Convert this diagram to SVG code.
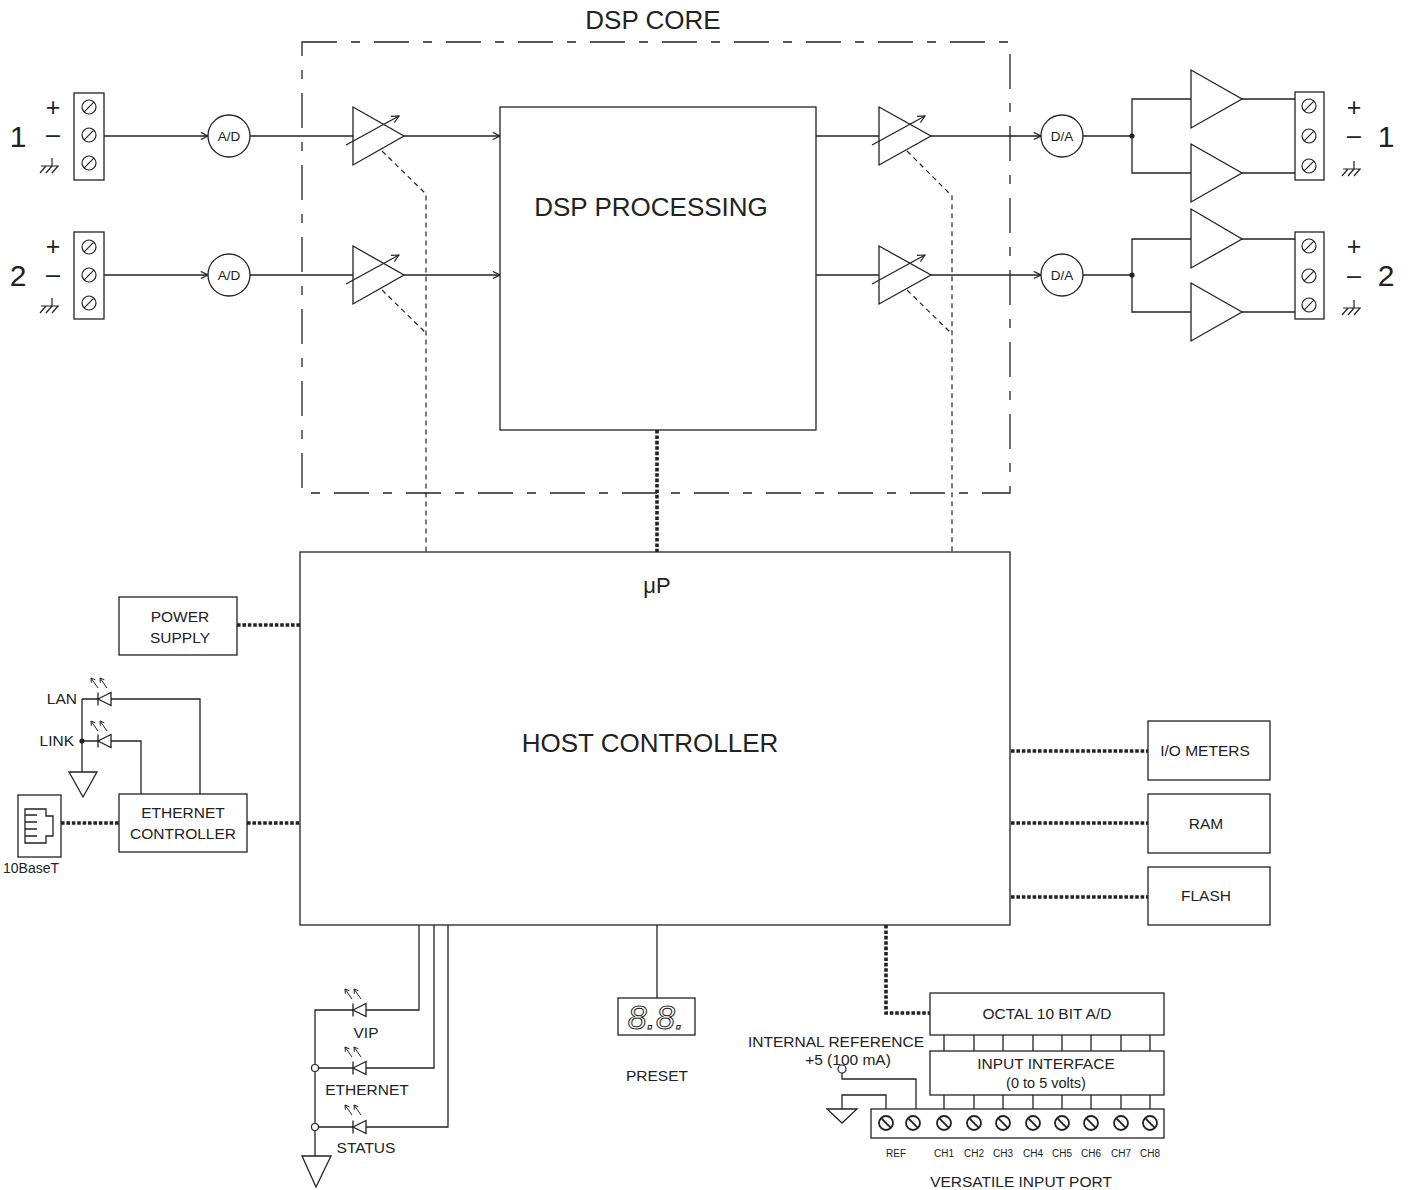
<svg xmlns="http://www.w3.org/2000/svg" width="1416" height="1190" viewBox="0 0 1416 1190">
<defs>
<style>
.ln{stroke:#222;stroke-width:1.3;fill:none}
.bx{fill:#fff;stroke:#222;stroke-width:1.3}
.dsh{stroke:#222;stroke-width:1.2;fill:none;stroke-dasharray:5,4}
.dot{stroke:#222;stroke-width:3.6;fill:none;stroke-dasharray:3.6,1.8}
.core{stroke:#222;stroke-width:1.3;fill:none;stroke-dasharray:35,14,9,14}
text{font-family:"Liberation Sans",Arial,Helvetica,sans-serif;fill:#222;text-anchor:middle}
.big{font-size:26px}
.lb{font-size:15.5px}
.sm{font-size:10px}
.ad{font-size:13.5px}
.num{font-size:30px}
.pm{font-size:25px}
</style>
<marker id="ar" viewBox="0 0 10 10" refX="9" refY="5" markerWidth="9" markerHeight="9" markerUnits="userSpaceOnUse" orient="auto">
<path d="M1,1 L9,5 L1,9" fill="none" stroke="#222" stroke-width="1.3"/>
</marker>
<g id="scr"><circle r="7" fill="none" stroke="#222" stroke-width="1.2"/><line x1="-4.8" y1="4.8" x2="4.8" y2="-4.8" stroke="#222" stroke-width="1.2"/></g>
<g id="scr2"><circle r="7" fill="none" stroke="#222" stroke-width="1.8"/><line x1="-4.8" y1="-4.8" x2="4.8" y2="4.8" stroke="#222" stroke-width="1.8"/></g>
<path id="gnd" d="M-9,0 H9 M2,-8 V0 M-4,0 L-10,7 M2,0 L-4,7 M8,0 L2,7" fill="none" stroke="#222" stroke-width="1.2"/>
<g id="led" fill="none" stroke="#222" stroke-width="1.3"><path d="M0,-6.5 V6.5 M0,0 L13,-6.5 L13,6.5 Z" fill="#fff"/></g>
<g id="ledar" fill="none" stroke="#222" stroke-width="1"><path d="M0,0 L-7,-10 M-7,-10 L-6.6,-5.2 M-7,-10 L-2.6,-8.2"/><path d="M9,0 L2,-10 M2,-10 L2.4,-5.2 M2,-10 L6.4,-8.2"/></g>
</defs>
<rect width="1416" height="1190" fill="#fff"/>

<g id="dsp-core"><rect class="core" x="302" y="42" width="708" height="451"/><text class="big" x="653" y="29">DSP CORE</text></g>

<g id="connectors">
<line class="ln" x1="104" y1="136" x2="208" y2="136" marker-end="url(#ar)"/>
<line class="ln" x1="250" y1="136" x2="353" y2="136"/>
<line class="ln" x1="404" y1="136" x2="500" y2="136" marker-end="url(#ar)"/>
<line class="ln" x1="104" y1="275" x2="208" y2="275" marker-end="url(#ar)"/>
<line class="ln" x1="250" y1="275" x2="353" y2="275"/>
<line class="ln" x1="404" y1="275" x2="500" y2="275" marker-end="url(#ar)"/>
<path class="dsh" d="M382,151 L426,194 L426,552"/>
<path class="dsh" d="M382,290 L426,333"/>
<line class="ln" x1="816" y1="136" x2="879" y2="136"/>
<line class="ln" x1="931" y1="136" x2="1041" y2="136" marker-end="url(#ar)"/>
<line class="ln" x1="816" y1="275" x2="879" y2="275"/>
<line class="ln" x1="931" y1="275" x2="1041" y2="275" marker-end="url(#ar)"/>
<path class="dsh" d="M907,151 L952,196 L952,552"/>
<path class="dsh" d="M907,290 L952,334"/>
<path class="ln" d="M1083,136 H1132 M1191,99 H1132 V173 H1191 M1242,99 H1295 M1242,173 H1295"/>
<circle cx="1132" cy="136" r="2.6" fill="#222"/>
<path class="ln" d="M1083,275 H1132 M1191,239 H1132 V312 H1191 M1242,239 H1295 M1242,312 H1295"/>
<circle cx="1132" cy="275" r="2.6" fill="#222"/>
<line class="dot" x1="657" y1="430" x2="657" y2="552"/>
<line class="dot" x1="237" y1="625" x2="300" y2="625"/>
<line class="dot" x1="247" y1="823" x2="300" y2="823"/>
<line class="dot" x1="61" y1="823" x2="119" y2="823"/>
<line class="dot" x1="1011" y1="751" x2="1148" y2="751"/>
<line class="dot" x1="1011" y1="823" x2="1148" y2="823"/>
<line class="dot" x1="1011" y1="897" x2="1148" y2="897"/>
<path class="dot" d="M886,925 V1013 H930"/>
<path class="ln" d="M82,699 H98 M111,699 H200 V794 M82,741 H98 M111,741 H141 V794 M82,699 V772"/>
<circle cx="82" cy="741" r="2.6" fill="#222"/>
<path class="ln" d="M419,925 V1010 H366 M353,1010 H315 V1156 M434,925 V1068 H366 M353,1068 H315 M448,925 V1127 H366 M353,1127 H315"/>
<line class="ln" x1="657" y1="925" x2="657" y2="998"/>
<path class="ln" d="M944,1035V1051M974,1035V1051M1003,1035V1051M1033,1035V1051M1062,1035V1051M1091,1035V1051M1121,1035V1051M1150,1035V1051"/>
<path class="ln" d="M944,1095V1109M974,1095V1109M1003,1095V1109M1033,1095V1109M1062,1095V1109M1091,1095V1109M1121,1095V1109M1150,1095V1109"/>
<path class="ln" d="M842,1073 V1079 H916 V1109 M842,1109 V1095 H886 V1109"/>
</g>

<g id="in1">
<rect class="bx" x="74" y="93" width="30" height="87"/>
<use href="#scr" x="89" y="107"/><use href="#scr" x="89" y="135"/><use href="#scr" x="89" y="163"/>
<text class="pm" x="53" y="116">+</text><text class="pm" x="53" y="143">–</text><use href="#gnd" x="50" y="166"/>
<text class="num" x="18" y="147">1</text>
</g>
<g id="in2">
<rect class="bx" x="74" y="232" width="30" height="87"/>
<use href="#scr" x="89" y="247"/><use href="#scr" x="89" y="275"/><use href="#scr" x="89" y="303"/>
<text class="pm" x="53" y="255">+</text><text class="pm" x="53" y="283">–</text><use href="#gnd" x="50" y="306"/>
<text class="num" x="18" y="286">2</text>
</g>
<g id="ad1"><circle class="bx" cx="229" cy="136" r="21"/><text class="ad" x="229" y="141">A/D</text></g>
<g id="ad2"><circle class="bx" cx="229" cy="275" r="21"/><text class="ad" x="229" y="280">A/D</text></g>
<g id="amp-in1"><path class="ln" d="M353,107 L404,136 L353,165 Z"/><line class="ln" x1="346" y1="145" x2="399" y2="116" marker-end="url(#ar)"/></g>
<g id="amp-in2"><path class="ln" d="M353,246 L404,275 L353,304 Z"/><line class="ln" x1="346" y1="284" x2="399" y2="255" marker-end="url(#ar)"/></g>
<g id="dsp"><rect class="bx" x="500" y="107" width="316" height="323"/><text class="big" x="651" y="216">DSP PROCESSING</text></g>
<g id="amp-out1"><path class="ln" d="M879,107 L931,136 L879,165 Z"/><line class="ln" x1="872" y1="145" x2="925" y2="116" marker-end="url(#ar)"/></g>
<g id="amp-out2"><path class="ln" d="M879,246 L931,275 L879,304 Z"/><line class="ln" x1="872" y1="284" x2="925" y2="255" marker-end="url(#ar)"/></g>
<g id="da1"><circle class="bx" cx="1062" cy="136" r="21"/><text class="ad" x="1062" y="141">D/A</text></g>
<g id="da2"><circle class="bx" cx="1062" cy="275" r="21"/><text class="ad" x="1062" y="280">D/A</text></g>
<g id="drv1"><path class="ln" d="M1191,70 L1242,99 L1191,128 Z M1191,144 L1242,173 L1191,202 Z"/></g>
<g id="drv2"><path class="ln" d="M1191,209 L1242,239 L1191,268 Z M1191,283 L1242,312 L1191,341 Z"/></g>
<g id="out1">
<rect class="bx" x="1295" y="92" width="29" height="88"/>
<use href="#scr" x="1309" y="106"/><use href="#scr" x="1309" y="136"/><use href="#scr" x="1309" y="166"/>
<text class="pm" x="1354" y="116">+</text><text class="pm" x="1354" y="144">–</text><use href="#gnd" x="1352" y="169"/>
<text class="num" x="1386" y="147">1</text>
</g>
<g id="out2">
<rect class="bx" x="1295" y="232" width="29" height="87"/>
<use href="#scr" x="1309" y="246"/><use href="#scr" x="1309" y="276"/><use href="#scr" x="1309" y="305"/>
<text class="pm" x="1354" y="255">+</text><text class="pm" x="1354" y="284">–</text><use href="#gnd" x="1352" y="308"/>
<text class="num" x="1386" y="286">2</text>
</g>

<g id="host"><rect class="bx" x="300" y="552" width="710" height="373"/>
<text style="font-size:22px" x="657" y="593">μP</text>
<text class="big" x="650" y="752">HOST CONTROLLER</text></g>
<g id="power"><rect class="bx" x="119" y="597" width="118" height="58"/><text class="lb" x="180" y="622">POWER</text><text class="lb" x="180" y="643">SUPPLY</text></g>
<g id="eth"><rect class="bx" x="119" y="794" width="128" height="58"/><text class="lb" x="183" y="818">ETHERNET</text><text class="lb" x="183" y="839">CONTROLLER</text></g>
<g id="rj45"><rect class="bx" x="18" y="795" width="43" height="62"/>
<path class="ln" d="M25,809 H46 V816 H53 V836 H46 V843 H25 Z M25,815 H37 M25,822 H37 M25,829 H37 M25,836 H37"/>
<text class="lb" x="31" y="873" style="font-size:14px">10BaseT</text></g>
<g id="led-lan"><use href="#led" x="98" y="699"/><use href="#ledar" x="98" y="688"/><text class="lb" x="77" y="704" style="text-anchor:end">LAN</text></g>
<g id="led-link"><use href="#led" x="98" y="741"/><use href="#ledar" x="98" y="731"/><text class="lb" x="74" y="746" style="text-anchor:end">LINK</text></g>
<g id="gnd-eth"><path class="ln" d="M69,772 L97,772 L83,797 Z"/></g>
<g id="io"><rect class="bx" x="1148" y="721" width="122" height="59"/><text class="lb" x="1205" y="756">I/O METERS</text></g>
<g id="ram"><rect class="bx" x="1148" y="794" width="122" height="59"/><text class="lb" x="1206" y="829">RAM</text></g>
<g id="flash"><rect class="bx" x="1148" y="867" width="122" height="58"/><text class="lb" x="1206" y="901">FLASH</text></g>

<g id="led-vip"><use href="#led" x="353" y="1010"/><use href="#ledar" x="352" y="999"/><text class="lb" x="366" y="1038">VIP</text></g>
<g id="led-ethernet"><use href="#led" x="353" y="1068"/><use href="#ledar" x="352" y="1057"/><text class="lb" x="367" y="1095">ETHERNET</text><circle cx="315" cy="1068" r="3.5" fill="#fff" stroke="#222" stroke-width="1.2"/></g>
<g id="led-status"><use href="#led" x="353" y="1127"/><use href="#ledar" x="352" y="1115"/><text class="lb" x="366" y="1153">STATUS</text><circle cx="315" cy="1127" r="3.5" fill="#fff" stroke="#222" stroke-width="1.2"/></g>
<g id="gnd-led"><path class="ln" d="M302,1156 L331,1156 L316,1187 Z"/></g>

<g id="preset"><rect class="bx" x="618" y="998" width="77" height="37"/>
<text x="656" y="1029" style="font-size:34px;font-style:italic;fill:none;stroke:#222;stroke-width:1">8.8.</text>
<text class="lb" x="657" y="1081">PRESET</text></g>

<g id="octal"><rect class="bx" x="930" y="993" width="234" height="42"/><text class="lb" x="1047" y="1019">OCTAL 10 BIT A/D</text></g>
<g id="iface"><rect class="bx" x="930" y="1051" width="234" height="44"/><text class="lb" x="1046" y="1069">INPUT INTERFACE</text><text class="lb" x="1046" y="1088" style="font-size:14.5px">(0 to 5 volts)</text></g>
<g id="vip-port"><rect class="bx" x="871" y="1109" width="293" height="29"/>
<use href="#scr2" x="886" y="1123"/><use href="#scr2" x="913" y="1123"/><use href="#scr2" x="944" y="1123"/><use href="#scr2" x="974" y="1123"/><use href="#scr2" x="1003" y="1123"/><use href="#scr2" x="1033" y="1123"/><use href="#scr2" x="1062" y="1123"/><use href="#scr2" x="1091" y="1123"/><use href="#scr2" x="1121" y="1123"/><use href="#scr2" x="1150" y="1123"/>
<text class="sm" x="896" y="1157">REF</text><text class="sm" x="944" y="1157">CH1</text><text class="sm" x="974" y="1157">CH2</text><text class="sm" x="1003" y="1157">CH3</text><text class="sm" x="1033" y="1157">CH4</text><text class="sm" x="1062" y="1157">CH5</text><text class="sm" x="1091" y="1157">CH6</text><text class="sm" x="1121" y="1157">CH7</text><text class="sm" x="1150" y="1157">CH8</text>
<text class="lb" x="1021" y="1187">VERSATILE INPUT PORT</text></g>
<g id="intref"><text class="lb" x="836" y="1047">INTERNAL REFERENCE</text><text class="lb" x="848" y="1065">+5 (100 mA)</text><circle cx="842" cy="1069" r="4" fill="#fff" stroke="#222" stroke-width="1.2"/></g>
<g id="gnd-vip"><path class="ln" d="M827,1109 L857,1109 L842,1123 Z"/></g>
</svg>
